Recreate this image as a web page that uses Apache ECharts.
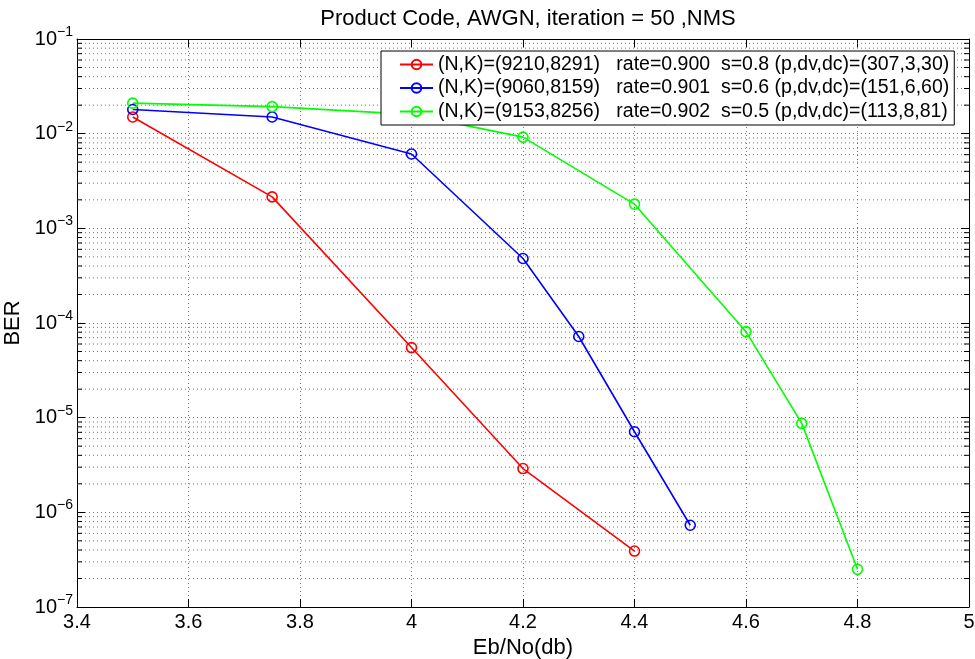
<!DOCTYPE html>
<html>
<head>
<meta charset="utf-8">
<script src="https://cdn.jsdelivr.net/npm/echarts@6/dist/echarts.min.js"></script>
<style>
  html, body { margin: 0; padding: 0; background: #fff; }
  #chart { width: 975px; height: 659px; }
</style>
</head>
<body>
<div id="chart"></div>
<script>
// BER curves, Product Code / AWGN / 50 iterations, NMS decoding
const ebnoRed = [3.5, 3.75, 4.0, 4.2, 4.4];
const berRed = [1.5e-2, 2.15e-3, 5.5e-5, 2.9e-6, 3.9e-7];

const ebnoBlue = [3.5, 3.75, 4.0, 4.2, 4.3, 4.4, 4.5];
const berBlue = [1.8e-2, 1.5e-2, 6.1e-3, 4.8e-4, 7.2e-5, 7.1e-6, 7.3e-7];

const ebnoGreen = [3.5, 3.75, 4.0, 4.2, 4.4, 4.6, 4.7, 4.8];
const berGreen = [2.1e-2, 1.93e-2, 1.6e-2, 9.2e-3, 1.8e-3, 8.1e-5, 8.7e-6, 2.5e-7];

const seriesNames = [
  '(N,K)=(9210,8291)   rate=0.900  s=0.8 (p,dv,dc)=(307,3,30)',
  '(N,K)=(9060,8159)   rate=0.901  s=0.6 (p,dv,dc)=(151,6,60)',
  '(N,K)=(9153,8256)   rate=0.902  s=0.5 (p,dv,dc)=(113,8,81)',
];

const xMin = 3.4, xMax = 5, xStep = 0.2;
const yMin = 1e-7, yMax = 1e-1;

const FONT = "'Liberation Sans', Arial, Helvetica, sans-serif";

// minor grid values 2..9 x 10^k (matlab style log grid)
const minorVals = [];
for (let k = -7; k <= -2; k++) {
  for (let m = 2; m <= 9; m++) {
    minorVals.push(m * Math.pow(10, k));
  }
}

const zip = (xs, ys) => xs.map((x, i) => [x, ys[i]]);

const chart = echarts.init(document.getElementById('chart'));

const gridLine = { color: '#777', width: 1, type: [1, 3] };

const supLabel = (v) => {
  const e = Math.round(Math.log10(v));
  return '{b|10}{s|\u2212' + Math.abs(e) + '}';
};

const lineSeries = (name, data, color) => ({
  name: name,
  type: 'line',
  data: data,
  symbol: 'circle',
  symbolSize: 10,
  showAllSymbol: true,
  lineStyle: { color: color, width: 1.6 },
  itemStyle: { color: 'rgba(255,255,255,0)', borderColor: color, borderWidth: 1.6 },
  z: 5,
});

const option = {
  animation: false,
  backgroundColor: '#fff',
  title: {
    text: 'Product Code, AWGN, iteration = 50 ,NMS',
    left: 523,
    textAlign: 'center',
    top: 3,
    textStyle: { fontFamily: FONT, fontSize: 22, fontWeight: 'normal', color: '#000' },
  },
  legend: {
    data: seriesNames,
    orient: 'vertical',
    left: 381,
    top: 51,
    padding: [2, 5, 2, 18],
    itemGap: 0.5,
    itemWidth: 33,
    itemHeight: 12,
    backgroundColor: '#fff',
    borderColor: '#000',
    borderWidth: 1,
    textStyle: { fontFamily: FONT, fontSize: 19.5, color: '#000', lineHeight: 23 },
    z: 10,
  },
  grid: { left: 77, right: 6, top: 39, bottom: 52, containLabel: false, outerBoundsMode: 'none' },
  xAxis: [
    {
      type: 'value',
      min: xMin,
      max: xMax,
      interval: xStep,
      name: 'Eb/No(db)',
      nameLocation: 'middle',
      nameGap: 20,
      nameTextStyle: { fontFamily: FONT, fontSize: 22, color: '#000' },
      axisLine: { onZero: false, lineStyle: { color: '#000', width: 1 } },
      axisTick: { inside: true, length: 8, lineStyle: { color: '#000' } },
      axisLabel: { fontFamily: FONT, fontSize: 20, color: '#000', margin: 5 },
      splitLine: { show: true, lineStyle: gridLine },
    },
    {
      type: 'value',
      position: 'top',
      min: xMin,
      max: xMax,
      interval: xStep,
      axisLine: { onZero: false, lineStyle: { color: '#000', width: 1 } },
      axisTick: { inside: true, length: 8, lineStyle: { color: '#000' } },
      axisLabel: { show: false },
      splitLine: { show: false },
    },
  ],
  yAxis: [
    {
      type: 'log',
      logBase: 10,
      min: yMin,
      max: yMax,
      splitNumber: 6,
      name: 'BER',
      nameLocation: 'middle',
      nameGap: 50,
      nameTextStyle: { fontFamily: FONT, fontSize: 22, color: '#000' },
      axisLine: { onZero: false, lineStyle: { color: '#000', width: 1 } },
      axisTick: { inside: true, length: 8, lineStyle: { color: '#000' } },
      axisLabel: {
        margin: 4,
        formatter: supLabel,
        rich: {
          b: { fontFamily: FONT, fontSize: 20, color: '#000' },
          s: { fontFamily: FONT, fontSize: 14, color: '#000', padding: [0, 0, 14, 0] },
        },
      },
      splitLine: { show: true, lineStyle: gridLine },
    },
    {
      type: 'log',
      logBase: 10,
      position: 'right',
      min: yMin,
      max: yMax,
      splitNumber: 6,
      axisLine: { onZero: false, lineStyle: { color: '#000', width: 1 } },
      axisTick: { inside: true, length: 8, lineStyle: { color: '#000' } },
      axisLabel: { show: false },
      splitLine: { show: false },
    },
  ],
  series: [
    {
      type: 'custom',
      silent: true,
      z: 1,
      data: minorVals.map((v) => [xMin, v]),
      renderItem: (params, api) => {
        const cs = params.coordSys;
        const y = api.coord([xMin, api.value(1)])[1];
        const x0 = cs.x, x1 = cs.x + cs.width;
        return {
          type: 'group',
          children: [
            { type: 'line', shape: { x1: x0, y1: y, x2: x1, y2: y }, style: { stroke: '#777', lineWidth: 1, lineDash: [1, 3] } },
            { type: 'line', shape: { x1: x0, y1: y, x2: x0 + 5, y2: y }, style: { stroke: '#000', lineWidth: 1 } },
            { type: 'line', shape: { x1: x1 - 5, y1: y, x2: x1, y2: y }, style: { stroke: '#000', lineWidth: 1 } },
          ],
        };
      },
    },
    lineSeries(seriesNames[0], zip(ebnoRed, berRed), '#ff0000'),
    lineSeries(seriesNames[1], zip(ebnoBlue, berBlue), '#0000ff'),
    lineSeries(seriesNames[2], zip(ebnoGreen, berGreen), '#00ff00'),
  ],
};

chart.setOption(option);
</script>
</body>
</html>
